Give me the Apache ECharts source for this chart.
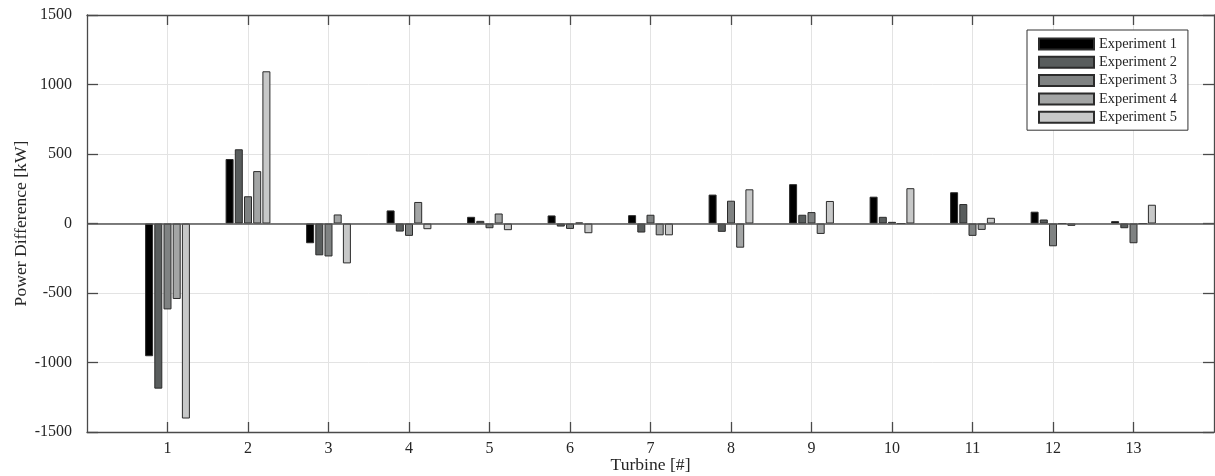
<!DOCTYPE html>
<html>
<head>
<meta charset="utf-8">
<script src="https://cdn.jsdelivr.net/npm/echarts@6/dist/echarts.min.js"></script>
<style>html,body{margin:0;padding:0;background:#fff;}#c{width:1215px;height:476px;}</style>
</head>
<body>
<div id="c"></div>
<script>
const turbines = ['1','2','3','4','5','6','7','8','9','10','11','12','13'];
const seriesNames = ['Experiment 1','Experiment 2','Experiment 3','Experiment 4','Experiment 5'];
const exp1 = [-955, 464, -142, 94, 48, 58, 60, 208, 283, 193, 225, 85, 17];
const exp2 = [-1188, 534, -229, -58, 19, -22, -65, -60, 63, 48, 140, 29, -34];
const exp3 = [-618, 196, -237, -89, -34, -39, 63, 164, 82, 12, -89, -164, -142];
const exp4 = [-543, 377, 65, 155, 72, 7, -85, -174, -75, 0, -46, 0, 0];
const exp5 = [-1403, 1095, -287, -41, -48, -70, -85, 246, 162, 254, 41, -17, 135];
const yTicks = [-1500, -1000, -500, 0, 500, 1000, 1500];
const colors = ['#000000', '#595d5d', '#7f8282', '#a3a5a5', '#c7c8c8'];

const FONT = "'Liberation Serif', 'Times New Roman', serif";
const TXT = '#262626';
const AX = '#4a4a4a';
const axisCats = ['0'].concat(turbines, ['14']);
const inner = (i) => i > 0 && i < axisCats.length - 1;
const allSeries = [exp1, exp2, exp3, exp4, exp5];

const chart = echarts.init(document.getElementById('c'), null, {renderer: 'canvas'});
const xBase = {
  type: 'category', data: axisCats, boundaryGap: false,
  axisLine: {show: true, onZero: false, lineStyle: {color: AX, width: 1.3}},
  axisTick: {show: true, inside: true, length: 10, interval: inner, lineStyle: {color: AX, width: 1.3}},
};
const yBase = {
  type: 'value', min: yTicks[0], max: yTicks[yTicks.length - 1], interval: 500,
  axisLine: {show: true, lineStyle: {color: AX, width: 1.3}},
  axisTick: {show: true, inside: true, length: 11, lineStyle: {color: AX, width: 1.3}},
};
chart.setOption({
  animation: false,
  backgroundColor: '#fff',
  textStyle: {fontFamily: FONT},
  grid: {left: 87, right: 1, top: 15, bottom: 44, containLabel: false, outerBoundsMode: 'none'},
  legend: {
    orient: 'vertical', left: 1027, top: 30,
    padding: [7, 11, 6, 11],
    itemWidth: 55, itemHeight: 11, itemGap: 4.3,
    icon: 'rect',
    backgroundColor: '#fff', borderColor: '#333', borderWidth: 1, borderRadius: 0,
    textStyle: {fontFamily: FONT, fontSize: 14.4, color: TXT, lineHeight: 11, padding: [0,0,0,0]},
    data: seriesNames
  },
  xAxis: [
    Object.assign({}, xBase, {
      position: 'bottom',
      name: 'Turbine [#]', nameLocation: 'middle', nameGap: 24, nameMoveOverlap: false,
      nameTextStyle: {fontFamily: FONT, fontSize: 17.6, color: TXT},
      axisLabel: {show: true, interval: inner, margin: 9, fontFamily: FONT, fontSize: 16, color: TXT},
      splitLine: {show: true, interval: inner, lineStyle: {color: '#e3e3e3', width: 1}}
    }),
    Object.assign({}, xBase, {
      position: 'top',
      axisLabel: {show: false},
      splitLine: {show: false}
    })
  ],
  yAxis: [
    Object.assign({}, yBase, {
      position: 'left',
      name: 'Power Difference [kW]', nameLocation: 'middle', nameGap: 57, nameMoveOverlap: false,
      nameTextStyle: {fontFamily: FONT, fontSize: 17.6, color: TXT},
      axisLabel: {show: true, margin: 15, fontFamily: FONT, fontSize: 16, color: TXT,
        formatter: (v) => String(v)},
      splitLine: {show: true, lineStyle: {color: '#e3e3e3', width: 1}}
    }),
    Object.assign({}, yBase, {
      position: 'right',
      axisLabel: {show: false},
      splitLine: {show: false}
    })
  ],
  series: allSeries.map((vals, k) => ({
    name: seriesNames[k],
    type: 'bar',
    xAxisIndex: 0, yAxisIndex: 0,
    barWidth: 8, barGap: '15%',
    itemStyle: {color: colors[k], borderColor: '#2b2b2b', borderWidth: 1},
    data: vals.map((v, i) => [turbines[i], v]),
    markLine: k === 0 ? {
      silent: true, symbol: ['none', 'none'], label: {show: false},
      lineStyle: {color: '#555', width: 1.5, type: 'solid'},
      data: [{yAxis: 0}]
    } : undefined,
    z: 2
  }))
});
</script>
</body>
</html>
